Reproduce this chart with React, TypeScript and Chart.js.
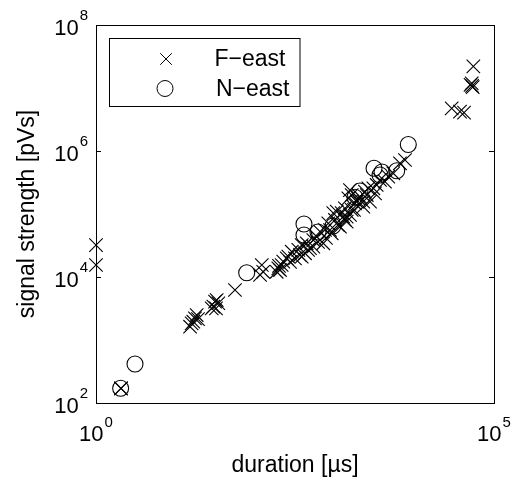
import React, { useEffect, useRef } from 'react';
import { Chart, registerables } from 'chart.js';

Chart.register(...registerables);

// F-east series: duration [µs], signal strength [pVs]
const fEastDuration = [
  1.0, 1.0, 2.06, 2.06, 55000, 52500, 54000, 50700, 53000, 29400, 37400, 42000,
  15.9, 17.5, 15.2, 18.4, 16.7, 19.1, 29.8, 31.3, 32.8, 28.4, 34.4, 32.2,
  55.7, 121, 115, 126, 195, 215, 186, 225, 249, 205, 199,
  261, 288, 316, 348, 384, 423, 444, 488, 537, 593, 652, 717, 753, 829, 914,
  1006, 1057, 1162, 1280, 1410, 1630, 1790, 1970, 2280, 2520, 2770, 3200,
  6590, 7620, 5430, 4700, 4270, 3700, 3360, 3050, 2640, 2390, 2070, 1550,
  1630, 1880, 1480, 2280, 1340, 1220, 1410, 384, 537, 957,
  274, 365, 461, 615, 775, 871, 1097, 1343, 1552, 1742,
];
const fEastSignal = [
  32000, 15500, 171, 171, 2.2e7, 1.19e7, 1.03e7, 1.12e7, 1.08e7, 4.76e6, 4.21e6, 4.06e6,
  1840, 2210, 1625, 2490, 1950, 2150, 3380, 4060, 4310, 3180, 3830, 3180,
  6220, 15500, 10800, 12100, 13700, 15500, 12100, 17500, 19800, 12900, 15000,
  21000, 25200, 19800, 26900, 32200, 23800, 34300, 28600, 38600, 43600, 52400, 34300, 55700, 71100, 49400,
  80400, 109000, 62800, 90600, 75500, 116000, 148000, 177000, 131000, 200000, 157000, 213000,
  638000, 720000, 443000, 391000, 326000, 347000, 289000, 256000, 256000, 226000, 188000, 240000,
  200000, 157000, 177000, 157000, 123000, 103000, 90600, 21000, 30300, 103000,
  17300, 22300, 26900, 36000, 41600, 55700, 66800, 80400, 96400, 116000,
];

// N-east series
const nEastDuration = [3.09, 2.04, 78.2, 410, 410, 615, 949, 1790, 2070, 3110, 3700, 3920, 5990, 8380];
const nEastSignal = [416, 171, 11700, 69400, 46400, 51800, 64600, 184000, 232000, 531000, 416000, 464000, 487000, 1.27e6];

const seriesNames = ['F\u2212east', 'N\u2212east'];
const xTitle = 'duration [\u00B5s]';
const yTitle = 'signal strength [pVs]';

const xMin = 1;
const xMax = 1e5;
const yMin = 1e2;
const yMax = 1e8;
const xTickValues = [1, 1e5];
const xTickExponents = ['0', '5'];
const yTickValues = [1e2, 1e4, 1e6, 1e8];
const yTickExponents = ['2', '4', '6', '8'];

const FONT = '"Liberation Sans", Arial, Helvetica, sans-serif';

const overlayPlugin = {
  id: 'overlay',
  afterDraw(chart: any) {
    const { ctx, chartArea: a, scales } = chart;
    const xs = scales.x;
    const ys = scales.y;
    ctx.save();
    ctx.strokeStyle = '#000';
    ctx.fillStyle = '#000';
    ctx.lineWidth = 1;
    // axes box
    ctx.strokeRect(a.left + 0.5, a.top + 0.5, a.right - a.left, a.bottom - a.top);
    // inward ticks
    ctx.beginPath();
    yTickValues.forEach((v) => {
      const py = Math.round(ys.getPixelForValue(v)) + 0.5;
      ctx.moveTo(a.left, py);
      ctx.lineTo(a.left + 5, py);
      ctx.moveTo(a.right, py);
      ctx.lineTo(a.right - 5, py);
    });
    xTickValues.forEach((v) => {
      const px = Math.round(xs.getPixelForValue(v)) + 0.5;
      ctx.moveTo(px, a.bottom);
      ctx.lineTo(px, a.bottom - 5);
      ctx.moveTo(px, a.top);
      ctx.lineTo(px, a.top + 5);
    });
    ctx.stroke();

    const big = '22px ' + FONT;
    const small = '15px ' + FONT;
    ctx.textAlign = 'left';
    ctx.textBaseline = 'alphabetic';
    // y tick labels
    yTickValues.forEach((v, i) => {
      const py = ys.getPixelForValue(v);
      ctx.font = small;
      const w2 = ctx.measureText(yTickExponents[i]).width;
      ctx.font = big;
      const w1 = ctx.measureText('10').width;
      const right = a.left - 8;
      ctx.fillText('10', right - w2 - 1 - w1, py + 9.7);
      ctx.font = small;
      ctx.fillText(yTickExponents[i], right - w2, py - 5);
    });
    // x tick labels
    xTickValues.forEach((v, i) => {
      const px = xs.getPixelForValue(v);
      ctx.font = small;
      const w2 = ctx.measureText(xTickExponents[i]).width;
      ctx.font = big;
      const w1 = ctx.measureText('10').width;
      const start = px - (w1 + 1 + w2) / 2;
      ctx.fillText('10', start, a.bottom + 38);
      ctx.font = small;
      ctx.fillText(xTickExponents[i], start + w1 + 1, a.bottom + 24);
    });

    // axis titles
    ctx.font = '23px ' + FONT;
    ctx.textAlign = 'center';
    ctx.fillText(xTitle, (a.left + a.right) / 2, a.bottom + 68.5);
    ctx.save();
    ctx.translate(33.5, (a.top + a.bottom) / 2);
    ctx.rotate(-Math.PI / 2);
    ctx.fillText(yTitle, 0, 0);
    ctx.restore();

    // legend
    const lx = a.left + 13.5;
    const ly = a.top + 13.5;
    const lw = 190.5;
    const lh = 68;
    ctx.fillStyle = '#fff';
    ctx.fillRect(lx, ly, lw, lh);
    ctx.strokeRect(lx, ly, lw, lh);
    ctx.fillStyle = '#000';
    // cross marker
    const cx = lx + 56.5;
    const cy = ly + 20.5;
    const h = 5.8;
    ctx.beginPath();
    ctx.moveTo(cx - h, cy - h);
    ctx.lineTo(cx + h, cy + h);
    ctx.moveTo(cx + h, cy - h);
    ctx.lineTo(cx - h, cy + h);
    ctx.stroke();
    // circle marker
    ctx.beginPath();
    ctx.arc(lx + 55.5, ly + 50, 8, 0, Math.PI * 2);
    ctx.stroke();
    ctx.textAlign = 'left';
    ctx.font = '23px ' + FONT;
    ctx.fillText(seriesNames[0], lx + 105, ly + 27.5);
    ctx.fillText(seriesNames[1], lx + 106.5, ly + 57.5);
    ctx.restore();
  },
};

export default function App() {
  const canvasRef = useRef<HTMLCanvasElement | null>(null);

  useEffect(() => {
    if (!canvasRef.current) return;
    const fData = fEastDuration.map((x, i) => ({ x, y: fEastSignal[i] }));
    const nData = nEastDuration.map((x, i) => ({ x, y: nEastSignal[i] }));
    const chart = new Chart(canvasRef.current, {
      type: 'scatter',
      data: {
        datasets: [
          {
            label: seriesNames[0],
            data: fData,
            pointStyle: 'crossRot',
            pointRadius: 9.5,
            pointHoverRadius: 9.5,
            borderColor: '#000',
            backgroundColor: 'rgba(0,0,0,0)',
            borderWidth: 1.1,
            clip: false,
          } as any,
          {
            label: seriesNames[1],
            data: nData,
            pointStyle: 'circle',
            pointRadius: 8,
            pointHoverRadius: 8,
            borderColor: '#000',
            backgroundColor: 'rgba(0,0,0,0)',
            borderWidth: 1.1,
            clip: false,
          } as any,
        ],
      },
      options: {
        responsive: false,
        animation: false,
        devicePixelRatio: 1,
        events: [],
        layout: { padding: { left: 96, top: 25, right: 20, bottom: 75 } },
        plugins: { legend: { display: false }, tooltip: { enabled: false } },
        scales: {
          x: { type: 'logarithmic', min: xMin, max: xMax, display: false },
          y: { type: 'logarithmic', min: yMin, max: yMax, display: false },
        },
      },
      plugins: [overlayPlugin],
    });
    return () => chart.destroy();
  }, []);

  return (
    <div style={{ position: 'absolute', left: 0, top: 0, width: 514, height: 478, background: '#fff' }}>
      <canvas ref={canvasRef} width={514} height={478} style={{ display: 'block' }} />
    </div>
  );
}
